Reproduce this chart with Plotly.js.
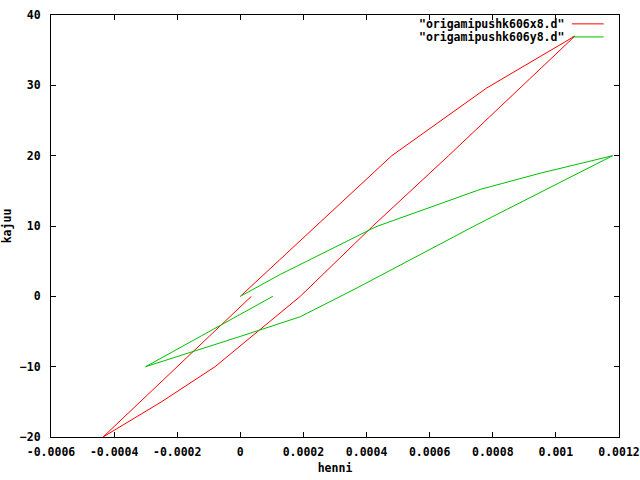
<!DOCTYPE html>
<html>
<head>
<meta charset="utf-8">
<script src="https://cdn.plot.ly/plotly-3.0.1.min.js"></script>
<style>html,body{margin:0;padding:0;background:#fff;}#chart{width:640px;height:480px;}</style>
</head>
<body>
<div id="chart"></div>
<script>
// Series "origamipushk606x8.d"
var redName = '"origamipushk606x8.d"';
var redX = [0, 0.00048, 0.00078, 0.00106, 0.00066, 0.00042, 0.00019, -0.00008, -0.00025, -0.000435, 0.000035];
var redY = [0, 20, 29.6, 37, 20, 10, 0, -10, -15, -20, 0];
// Series "origamipushk606y8.d"
var greenName = '"origamipushk606y8.d"';
var greenX = [0, 0.000126, 0.00043, 0.00076, 0.00095, 0.00118, 0.00075, 0.00037, 0.00019, 0, -0.0003, 0.000103];
var greenY = [0, 3.1, 9.9, 15.2, 17.5, 20, 10.2, 1.2, -2.9, -5.7, -10, 0];
// Axis ticks
var xTicks = [-0.0006, -0.0004, -0.0002, 0, 0.0002, 0.0004, 0.0006, 0.0008, 0.001, 0.0012];
var xTickText = ['-0.0006', '-0.0004', '-0.0002', '0', '0.0002', '0.0004', '0.0006', '0.0008', '0.001', '0.0012'];
var yTicks = [-20, -10, 0, 10, 20, 30, 40];

var fnt = {family: 'DejaVu Sans Mono, monospace', size: 11.5, color: '#000', weight: 'bold'};

var traces = [
  {x: redX, y: redY, mode: 'lines', name: redName, line: {color: '#ff0000', width: 1}, showlegend: false},
  {x: greenX, y: greenY, mode: 'lines', name: greenName, line: {color: '#00c000', width: 1}, showlegend: false}
];

var layout = {
  width: 640, height: 480,
  margin: {l: 51, r: 21, t: 15, b: 43},
  paper_bgcolor: '#fff', plot_bgcolor: '#fff',
  font: fnt,
  xaxis: {
    range: [-0.0006, 0.0012], tickvals: xTicks, ticktext: xTickText,
    ticks: 'inside', ticklen: 5, tickcolor: '#000', mirror: 'ticks',
    showline: true, linecolor: '#000', linewidth: 1, showgrid: false, zeroline: false,
    tickfont: fnt, ticklabelstandoff: 4,
    title: {text: 'henni', font: fnt, standoff: 6}
  },
  yaxis: {
    range: [-20, 40], tickvals: yTicks,
    ticks: 'inside', ticklen: 5, tickcolor: '#000', mirror: 'ticks',
    showline: true, linecolor: '#000', linewidth: 1, showgrid: false, zeroline: false,
    tickfont: fnt, ticklabelstandoff: 7,
    title: {text: 'kajuu', font: fnt, standoff: 6}
  },
  annotations: [
    {xref: 'paper', yref: 'paper', x: 0.906, y: 0.979, xanchor: 'right', yanchor: 'middle', text: redName, showarrow: false, font: fnt},
    {xref: 'paper', yref: 'paper', x: 0.906, y: 0.948, xanchor: 'right', yanchor: 'middle', text: greenName, showarrow: false, font: fnt}
  ],
  shapes: [
    {type: 'line', xref: 'paper', yref: 'paper', x0: 0.917, x1: 0.973, y0: 0.979, y1: 0.979, line: {color: '#ff0000', width: 1}},
    {type: 'line', xref: 'paper', yref: 'paper', x0: 0.917, x1: 0.973, y0: 0.948, y1: 0.948, line: {color: '#00c000', width: 1}}
  ]
};

Plotly.newPlot('chart', traces, layout, {displayModeBar: false, staticPlot: true});
</script>
</body>
</html>
